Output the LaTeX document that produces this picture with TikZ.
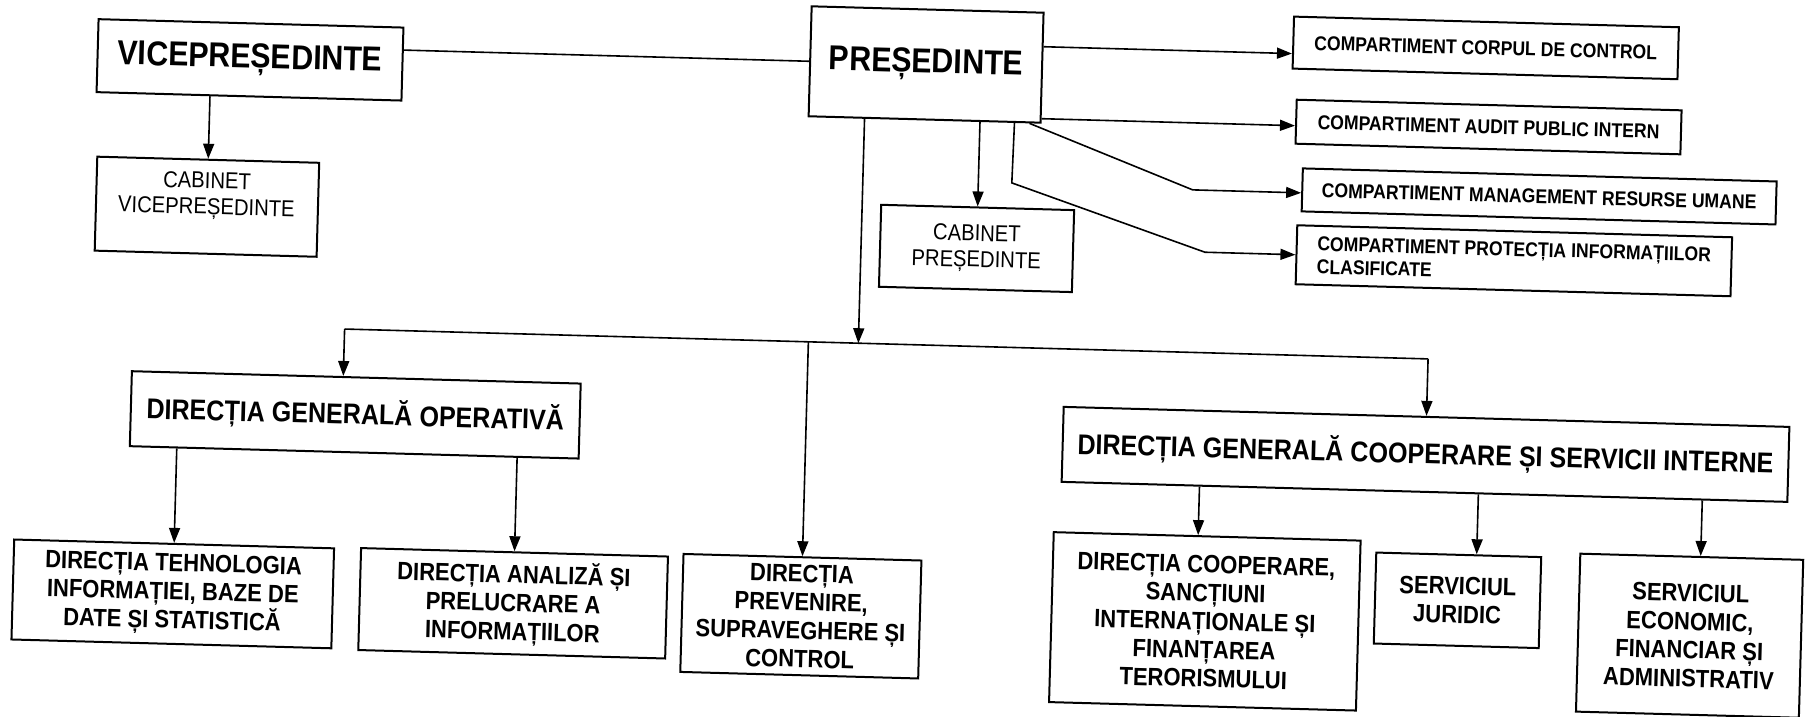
\documentclass[tikz,border=0pt]{standalone}
\usepackage{fontspec}
\setmainfont{Liberation Sans}[FakeStretch=0.88]
\usetikzlibrary{arrows.meta}
\tikzset{
  bx/.style={draw, line width=2pt, inner sep=0pt, align=center},
  bigt/.style={font=\bfseries\fontsize{34.5}{38}\selectfont},
  cabt/.style={font=\fontsize{23}{26}\selectfont, align=center},
  compt/.style={font=\bfseries\fontsize{20}{24}\selectfont},
  prott/.style={font=\bfseries\fontsize{20}{23}\selectfont},
  dgt/.style={font=\bfseries\fontsize{28.5}{32}\selectfont},
  lowt/.style={font=\bfseries\fontsize{25}{28.5}\selectfont},
  ln/.style={line width=1.6pt},
  arr/.style={line width=1.6pt, -{Triangle[length=15pt,width=11pt]}}
}
\begin{document}
\begin{tikzpicture}[x=1pt,y=-1pt]
\fill[white] (0,0) rectangle (1810,716);
\useasboundingbox (0,0) rectangle (1810,716);
\begin{scope}[rotate around={-1.58:(905,358)}, transform shape]
% top level
\node[bx, bigt, minimum width=305pt, minimum height=73pt] (vice) at (242,78) {VICEPREȘEDINTE};
\node[bx, bigt, minimum width=232pt, minimum height=110pt] (pres) at (918,64) {PREȘEDINTE};
\node[bx, minimum width=222pt, minimum height=94pt] (cabv) at (203,226) {};
\node[cabt] (cabvt) at (202.5,215) {CABINET\\VICEPREȘEDINTE};
\node[bx, cabt, minimum width=193pt, minimum height=82pt] (cabp) at (973.5,246.5) {CABINET\\PREȘEDINTE};
% compartments
\node[bx, compt, minimum width=385pt, minimum height=52pt] (corp) at (1477,32) {COMPARTIMENT CORPUL DE CONTROL};
\node[bx, compt, minimum width=385pt, minimum height=44pt] (audit) at (1482,111) {COMPARTIMENT AUDIT PUBLIC INTERN};
\node[bx, compt, minimum width=474pt, minimum height=43pt] (mgmt) at (1534.5,179) {COMPARTIMENT MANAGEMENT RESURSE UMANE};
\node[bx, prott, minimum width=435pt, minimum height=59pt, align=left] (prot) at (1511,244) {COMPARTIMENT PROTECȚIA INFORMAȚIILOR\\CLASIFICATE};
% general directorates
\node[bx, dgt, minimum width=449pt, minimum height=75pt] (dgo) at (357,430) {DIRECȚIA GENERALĂ OPERATIVĂ};
\node[bx, dgt, minimum width=726pt, minimum height=75pt] (dgc) at (1428,440) {DIRECȚIA GENERALĂ COOPERARE ȘI SERVICII INTERNE};
% lower level
\node[bx, lowt, minimum width=320pt, minimum height=100pt] (teh) at (179.5,614) {DIRECȚIA TEHNOLOGIA\\INFORMAȚIEI, BAZE DE\\DATE ȘI STATISTICĂ};
\node[bx, lowt, minimum width=307pt, minimum height=102pt] (ana) at (520,614) {DIRECȚIA ANALIZĂ ȘI\\PRELUCRARE A\\INFORMAȚIILOR};
\node[bx, lowt, minimum width=238pt, minimum height=118pt] (prev) at (808,619) {DIRECȚIA\\PREVENIRE,\\SUPRAVEGHERE ȘI\\CONTROL};
\node[bx, lowt, minimum width=307pt, minimum height=170pt] (coop) at (1212,613) {DIRECȚIA COOPERARE,\\SANCȚIUNI\\INTERNAȚIONALE ȘI\\FINANȚAREA\\TERORISMULUI};
\node[bx, lowt, minimum width=165pt, minimum height=91pt] (jur) at (1464,585) {SERVICIUL\\JURIDIC};
\node[bx, lowt, minimum width=223pt, minimum height=158pt] (eco) at (1697,614) {SERVICIUL\\ECONOMIC,\\FINANCIAR ȘI\\ADMINISTRATIV};
% connectors
\draw[ln] ([yshift=14pt]vice.east) -- (pres.west);
\draw[arr] ([xshift=-39pt]vice.south) -- (cabv.north);
\draw[arr] ([xshift=55.5pt]pres.south) -- (cabp.north);
\draw[arr] ([yshift=21pt]pres.east) -- ([yshift=-11pt]corp.west);
\draw[arr] ([yshift=-51pt]pres.east) -- ([yshift=-4pt]audit.west);
\coordinate (b3) at (1188,182);
\draw[arr] ([xshift=-12pt]pres.south east) -- (b3) -- ([yshift=-3pt]mgmt.west);
\coordinate (b4a) at (1007,180);
\coordinate (b4b) at (1202,244);
\draw[arr] ([xshift=-27pt]pres.south east) -- (b4a) -- (b4b) -- (prot.west);
% bus
\coordinate (busc) at (858,344.5);
\coordinate (busl) at (344,344.5);
\coordinate (busp) at (808,344.5);
\coordinate (busr) at (1428,344.5);
\draw[arr] ([xshift=-60pt]pres.south) -- (busc);
\draw[ln] (busl) -- (busr);
\draw[arr] (busl) -- ([xshift=-13pt]dgo.north);
\draw[arr] (busp) -- (prev.north);
\draw[arr] (busr) -- (dgc.north);
\draw[arr] ([xshift=-177.5pt]dgo.south) -- (teh.north);
\draw[arr] ([xshift=163pt]dgo.south) -- (ana.north);
\draw[arr] ([xshift=-225pt]dgc.south) -- ([xshift=-9pt]coop.north);
\draw[arr] ([xshift=54pt]dgc.south) -- ([xshift=18pt]jur.north);
\draw[arr] ([xshift=278pt]dgc.south) -- ([xshift=9pt]eco.north);
\end{scope}
\end{tikzpicture}
\end{document}
